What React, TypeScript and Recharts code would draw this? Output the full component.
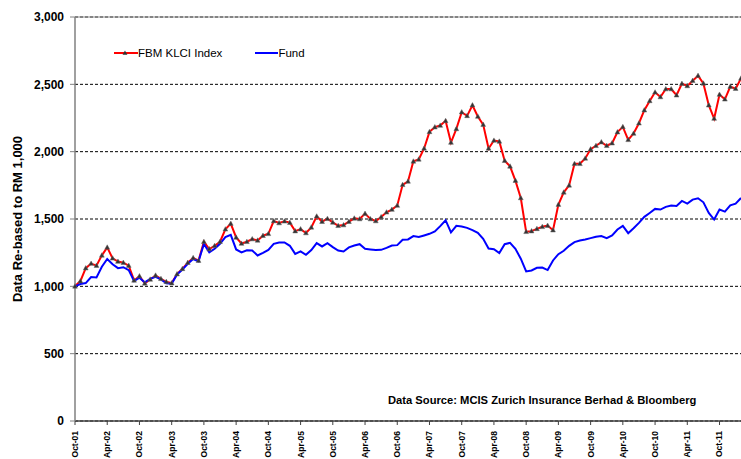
import React from 'react'
import { LineChart, Line, XAxis, YAxis, CartesianGrid, ReferenceLine } from 'recharts'

const MONTHS = ['Jan', 'Feb', 'Mar', 'Apr', 'May', 'Jun', 'Jul', 'Aug', 'Sep', 'Oct', 'Nov', 'Dec']

// monthly, Oct-01 .. Feb-12
const months = Array.from({ length: 125 }, (_, i) => {
  const m = (9 + i) % 12
  const y = 1 + Math.floor((9 + i) / 12)
  return `${MONTHS[m]}-${String(y).padStart(2, '0')}`
})

const klci = [
  1000, 1039, 1135, 1169, 1154, 1230, 1289, 1208, 1184, 1176, 1154, 1044, 1076, 1022, 1051, 1081, 1056, 1034, 1024, 1091,
  1130, 1176, 1211, 1191, 1331, 1277, 1301, 1331, 1424, 1466, 1363, 1318, 1331,
  1351, 1341, 1376, 1390, 1485, 1470, 1483, 1473, 1410, 1425, 1396, 1438, 1520, 1480, 1502, 1475, 1450, 1455, 1480, 1505,
  1500, 1540, 1500, 1485, 1515, 1550, 1570, 1600, 1754, 1779, 1928, 1943,
  2024, 2147, 2182, 2194, 2229, 2068, 2169, 2293, 2266, 2345, 2261, 2201, 2024, 2083, 2076, 1933, 1891, 1785, 1656, 1405,
  1410, 1427, 1442, 1451, 1417, 1607, 1698, 1750, 1910, 1910,
  1950, 2019, 2044, 2071, 2044, 2063, 2145, 2184, 2088, 2135, 2211, 2308, 2377, 2441, 2406, 2465, 2465, 2419, 2505, 2488,
  2527, 2564, 2507, 2345, 2246, 2424, 2389, 2483, 2468, 2544,
]

const fund = [
  1000, 1017, 1024, 1069, 1066, 1145, 1203, 1164, 1135, 1142, 1120, 1039, 1064, 1029, 1056, 1071, 1051, 1022, 1020, 1088,
  1125, 1167, 1203, 1186, 1314, 1252, 1279, 1316, 1365, 1382, 1274, 1252, 1267,
  1266, 1229, 1249, 1271, 1316, 1326, 1326, 1301, 1241, 1259, 1234, 1269, 1321, 1296, 1321, 1291, 1266, 1259, 1289, 1303,
  1313, 1279, 1274, 1269, 1271, 1286, 1303, 1306, 1346, 1348, 1373, 1366,
  1378, 1390, 1407, 1447, 1491, 1400, 1449, 1444, 1434, 1417, 1397, 1353, 1281, 1276, 1247, 1313, 1323, 1279, 1205, 1111,
  1118, 1138, 1140, 1121, 1192, 1239, 1264, 1301, 1328, 1340,
  1348, 1358, 1368, 1373, 1358, 1378, 1422, 1449, 1395, 1432, 1471, 1516, 1545, 1575, 1570, 1590, 1600, 1597, 1634, 1614,
  1644, 1654, 1624, 1545, 1496, 1570, 1555, 1602, 1614, 1656,
]

const yTicks = [0, 500, 1000, 1500, 2000, 2500, 3000]

const data = months.map((m, i) => ({ month: m, klci: klci[i], fund: fund[i] }))

const FONT = '"Liberation Sans", Arial, sans-serif'

const renderTriangle = (props: any) => {
  const { cx, cy, index } = props
  if (cx == null || cy == null) return <g key={index} />
  return (
    <path
      key={index}
      d={`M${cx},${cy - 2.6} L${cx + 2.4},${cy + 1.8} L${cx - 2.4},${cy + 1.8} Z`}
      fill="#333"
      stroke="#666"
      strokeWidth={0.5}
    />
  )
}

const XTick = ({ x, y, payload }: any) => (
  <text
    x={x}
    y={y + 4}
    transform={`rotate(-90, ${x}, ${y + 4})`}
    textAnchor="end"
    dy="0.35em"
    fontSize={8.5}
    fontWeight="bold"
    fontFamily={FONT}
    fill="#000"
  >
    {payload.value}
  </text>
)

export default function App() {
  return (
    <div style={{ position: 'absolute', left: 0, top: 0, width: 741, height: 459, background: '#fff', fontFamily: FONT }}>
      <LineChart width={741} height={459} data={data} margin={{ top: 17, right: 0, bottom: 0, left: 0 }}>
        <CartesianGrid vertical={false} stroke="#000" strokeDasharray="3 2" />
        <ReferenceLine y={3000} stroke="#888" strokeWidth={1.2} />
        <XAxis
          dataKey="month"
          interval={5}
          height={38}
          padding={{ left: 0, right: 0 }}
          tick={<XTick />}
          tickSize={4}
          axisLine={{ stroke: '#404040', strokeWidth: 1.5 }}
          tickLine={{ stroke: '#404040' }}
        />
        <YAxis
          width={75}
          domain={[0, 3000]}
          ticks={yTicks}
          interval={0}
          tickFormatter={(v: number) => v.toLocaleString('en-US')}
          tick={{ fill: '#000', fontSize: 12, fontWeight: 'bold', fontFamily: FONT }}
          tickSize={5}
          tickMargin={6}
          axisLine={{ stroke: '#808080', strokeWidth: 1.5 }}
          tickLine={{ stroke: '#808080' }}
          label={{
            value: 'Data Re-based to RM 1,000',
            angle: -90,
            position: 'insideLeft',
            offset: 17,
            style: { textAnchor: 'middle', fontSize: 13, fontWeight: 'bold', fontFamily: FONT, fill: '#000' },
          }}
        />
        <Line
          type="linear"
          dataKey="klci"
          stroke="#ff0000"
          strokeWidth={2}
          dot={renderTriangle}
          activeDot={false}
          isAnimationActive={false}
        />
        <Line
          type="linear"
          dataKey="fund"
          stroke="#0000ff"
          strokeWidth={2}
          dot={false}
          activeDot={false}
          isAnimationActive={false}
        />
      </LineChart>

      {/* legend */}
      <div style={{ position: 'absolute', left: 114, top: 45, display: 'flex', alignItems: 'center', fontSize: 11.5, color: '#000' }}>
        <svg width={24} height={16}>
          <line x1={0} y1={8} x2={24} y2={8} stroke="#ff0000" strokeWidth={2} />
          <path d="M11,5.4 L13.4,9.8 L8.6,9.8 Z" fill="#333" />
        </svg>
        <span style={{ marginRight: 33 }}>FBM KLCI Index</span>
        <svg width={23} height={16}>
          <line x1={0} y1={8} x2={23} y2={8} stroke="#0000ff" strokeWidth={2} />
        </svg>
        <span>Fund</span>
      </div>

      <div style={{ position: 'absolute', left: 388, top: 394, fontSize: 11.2, fontWeight: 'bold', color: '#000', whiteSpace: 'nowrap' }}>
        Data Source: MCIS Zurich Insurance Berhad &amp; Bloomberg
      </div>
    </div>
  )
}
